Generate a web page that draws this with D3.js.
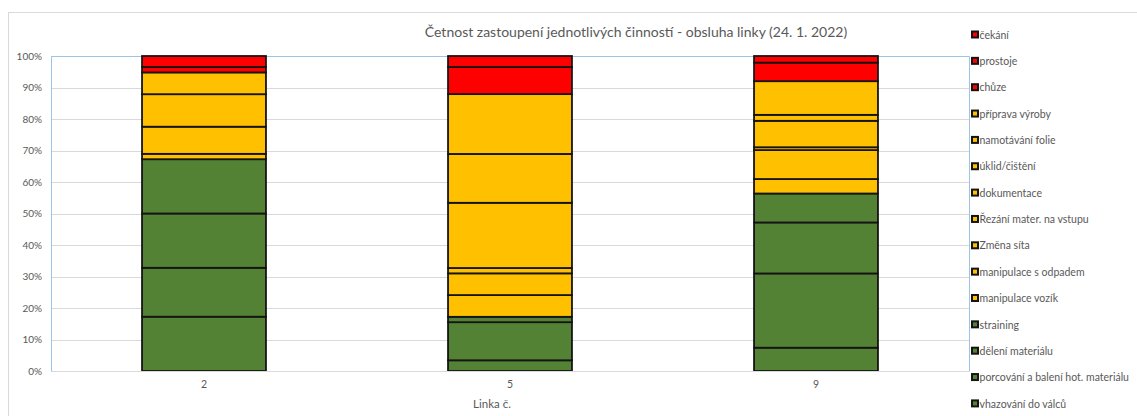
<!DOCTYPE html>
<html><head><meta charset="utf-8">
<script src="https://cdn.jsdelivr.net/npm/d3@7"></script>
<style>
html,body{margin:0;padding:0;background:#fff;}
svg{display:block;font-family:Lato,"Liberation Sans",sans-serif;}
</style></head>
<body><svg id="c" width="1137" height="416"></svg>
<script>
// ---- data ----
const categories = ["2", "5", "9"];
const seriesNames = ["vhazování do válců", "porcování a balení hot. materiálu", "dělení materiálu", "straining",
  "manipulace vozík", "manipulace s odpadem", "Změna síta", "Řezání mater. na vstupu", "dokumentace",
  "úklid/čištění", "namotávání folie", "příprava výroby", "chůze", "prostoje", "čekání"];
const seriesGroup = ["g","g","g","g","y","y","y","y","y","y","y","y","r","r","r"];
const linka2 = [17.2, 15.5, 17.2, 17.2, 1.7, 0, 8.6, 0, 10.3, 0, 0, 6.9, 0, 1.7, 3.5];
const linka5 = [3.4, 12.1, 1.7, 0, 6.9, 6.9, 1.7, 20.7, 15.5, 0, 0, 19.0, 0, 8.6, 3.5];
const linka9 = [7.4, 23.6, 16.2, 9.2, 4.6, 9.2, 0.9, 8.4, 1.9, 0, 0, 10.7, 0, 5.9, 2.1];
const yTicks = [0, 0.1, 0.2, 0.3, 0.4, 0.5, 0.6, 0.7, 0.8, 0.9, 1];
const title = "Četnost zastoupení jednotlivých činností - obsluha linky (24. 1. 2022)";
const xTitle = "Linka č.";

const groupColor = {g: "#548235", y: "#FFC000", r: "#FF0000"};
const valuesByCat = [linka2, linka5, linka9];
const table = categories.map((c, i) => {
  const row = {cat: c};
  seriesNames.forEach((s, j) => row[s] = valuesByCat[i][j]);
  return row;
});

const svg = d3.select("#c");
const L = 51, R = 969, T = 56, B = 371;
const textCol = "#595959";

// chart frame
svg.append("rect").attr("x", 8.5).attr("y", 12.5).attr("width", 1300).attr("height", 500)
  .attr("fill", "none").attr("stroke", "#d9d9d9");

const x = d3.scaleBand().domain(categories).range([L, R]).paddingInner(0.595).paddingOuter(0.2975);
const y = d3.scaleLinear().domain([0, 1]).range([B, T]);

// gridlines
svg.append("g").selectAll("line").data(yTicks).join("line")
  .attr("x1", L).attr("x2", R).attr("y1", d => Math.round(y(d)) + 0.5).attr("y2", d => Math.round(y(d)) + 0.5)
  .attr("stroke", "#d9d9d9").attr("stroke-width", 1);

// plot border (blue) left/top/right
svg.append("path")
  .attr("d", `M${L + 0.5},${B + 0.5}V${T + 0.5}H${R + 0.5}V${B + 0.5}`)
  .attr("fill", "none").attr("stroke", "#9DC3E6").attr("stroke-width", 1);

// stacked bars
const stack = d3.stack().keys(seriesNames).offset(d3.stackOffsetExpand);
const stacked = stack(table);
const layers = svg.append("g").selectAll("g").data(stacked).join("g")
  .attr("fill", (d, i) => groupColor[seriesGroup[i]]);
layers.selectAll("rect").data(d => d.filter(p => p[1] - p[0] > 0)).join("rect")
  .attr("x", d => x(d.data.cat))
  .attr("width", x.bandwidth())
  .attr("y", d => y(d[1]))
  .attr("height", d => y(d[0]) - y(d[1]))
  .attr("stroke", "#141414").attr("stroke-width", 1.8);

// y axis
const yAxis = svg.append("g").attr("transform", `translate(${L},0)`)
  .call(d3.axisLeft(y).tickValues(yTicks).tickFormat(d3.format(".0%")).tickSize(0).tickPadding(9));
yAxis.select(".domain").remove();
yAxis.selectAll("text").attr("fill", textCol).attr("font-size", 10).attr("font-family", "Lato, sans-serif");

// x axis
const xAxis = svg.append("g").attr("transform", `translate(0,${B})`)
  .call(d3.axisBottom(x).tickSize(0).tickPadding(10));
xAxis.select(".domain").attr("stroke", "#d9d9d9");
xAxis.selectAll("text").attr("fill", textCol).attr("font-size", 10.5).attr("font-family", "Lato, sans-serif");

// axis title
svg.append("text").attr("x", 492).attr("y", 408).attr("text-anchor", "middle")
  .attr("fill", textCol).attr("font-size", 11.5).text(xTitle);

// title
svg.append("text").attr("x", 636).attr("y", 37).attr("text-anchor", "middle")
  .attr("fill", textCol).attr("font-size", 14).text(title);

// legend (top to bottom: reverse series order)
const legendItems = seriesNames.map((s, i) => ({name: s, color: groupColor[seriesGroup[i]]})).reverse();
const lg = svg.append("g").selectAll("g").data(legendItems).join("g")
  .attr("transform", (d, i) => `translate(971,${35 + i * 26.35})`);
lg.append("rect").attr("x", 1).attr("y", -3.5).attr("width", 6).attr("height", 6)
  .attr("fill", d => d.color).attr("stroke", "#141414").attr("stroke-width", 2);
lg.append("text").attr("x", 8.5).attr("y", 0).attr("dy", "0.35em")
  .attr("fill", textCol).attr("font-size", 10.5).text(d => d.name);
</script></body></html>
